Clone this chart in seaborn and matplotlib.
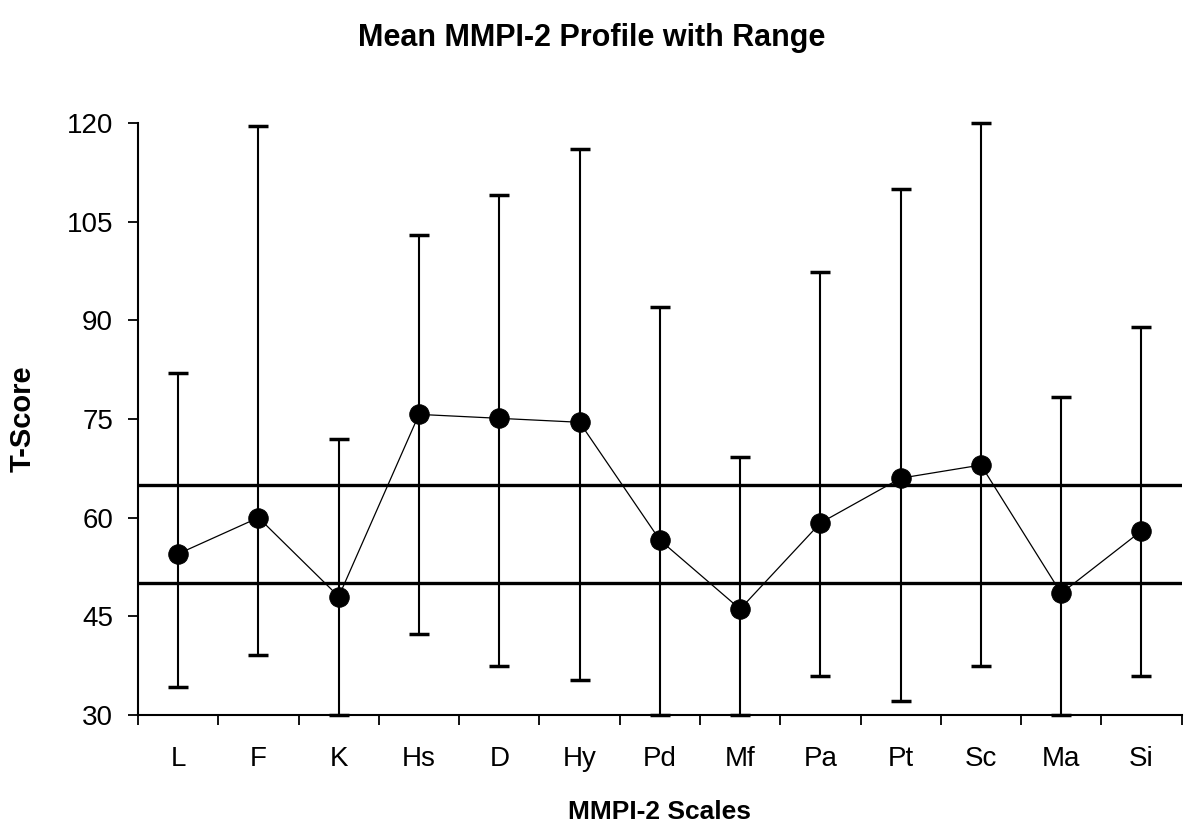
import matplotlib.pyplot as plt
import numpy as np
import pandas as pd
import seaborn as sns

# values
scales = ["L", "F", "K", "Hs", "D", "Hy", "Pd", "Mf", "Pa", "Pt", "Sc", "Ma", "Si"]
mean_t = [54.5, 60.0, 48.0, 75.7, 75.1, 74.5, 56.6, 46.1, 59.2, 66.0, 68.0, 48.5, 58.0]
max_t = [82, 119.5, 72, 103, 109, 116, 92, 69.2, 97.3, 110, 120, 78.3, 89]
min_t = [34.3, 39.1, 30, 42.3, 37.5, 35.3, 30, 30, 36, 32.2, 37.4, 30, 36]
ref_lines = [65, 50]

sns.set_style("ticks", {"axes.edgecolor": "black", "text.color": "black",
                        "axes.labelcolor": "black", "xtick.color": "black",
                        "ytick.color": "black"})
plt.rcParams["font.family"] = ["Liberation Sans", "DejaVu Sans"]

df = pd.DataFrame({"scale": scales, "mean": mean_t, "max": max_t, "min": min_t})
df["pos"] = np.arange(len(df))

fig = plt.figure(figsize=(11.84, 8.26), dpi=100)
ax = fig.add_axes([0.1166, 0.1344, 0.8814, 0.7167])

# range bars
eb = ax.errorbar(df["pos"], df["mean"],
                 yerr=[df["mean"] - df["min"], df["max"] - df["mean"]],
                 fmt="none", ecolor="black", elinewidth=1.5,
                 capsize=7, capthick=2.5, zorder=2)
for art in eb.lines[1] + eb.lines[2]:
    art.set_clip_on(False)

for y in ref_lines:
    ax.axhline(y, color="black", lw=2.4, zorder=1)

sns.lineplot(data=df, x="pos", y="mean", ax=ax, color="black",
             lw=0.9, marker="o", markersize=14, markeredgecolor="black",
             zorder=3)

ax.set_xlim(-0.5, len(df) - 0.5)
ax.set_ylim(30, 120)
ax.set_yticks(np.arange(30, 121, 15))
ax.set_xticks(df["pos"])
ax.set_xticklabels(scales)
ax.set_xticks(np.arange(-0.5, len(df), 1), minor=True)

ax.tick_params(axis="x", which="major", length=0, pad=22, labelsize=20)
ax.tick_params(axis="x", which="minor", length=7, width=1.3, direction="out")
ax.tick_params(axis="y", length=7, width=1.3, pad=11, labelsize=20)

sns.despine(ax=ax)
for side in ["left", "bottom"]:
    ax.spines[side].set_linewidth(1.5)

ax.set_xlabel("MMPI-2 Scales", fontsize=19, fontweight="bold")
ax.set_ylabel("T-Score", fontsize=21, fontweight="bold")
ax.xaxis.set_label_coords(0.5, -0.143)
ax.yaxis.set_label_coords(-0.097, 0.5)

fig.suptitle("Mean MMPI-2 Profile with Range", x=0.5, y=0.972,
             fontsize=22, fontweight="bold")

fig.savefig("out.png", dpi=100)
